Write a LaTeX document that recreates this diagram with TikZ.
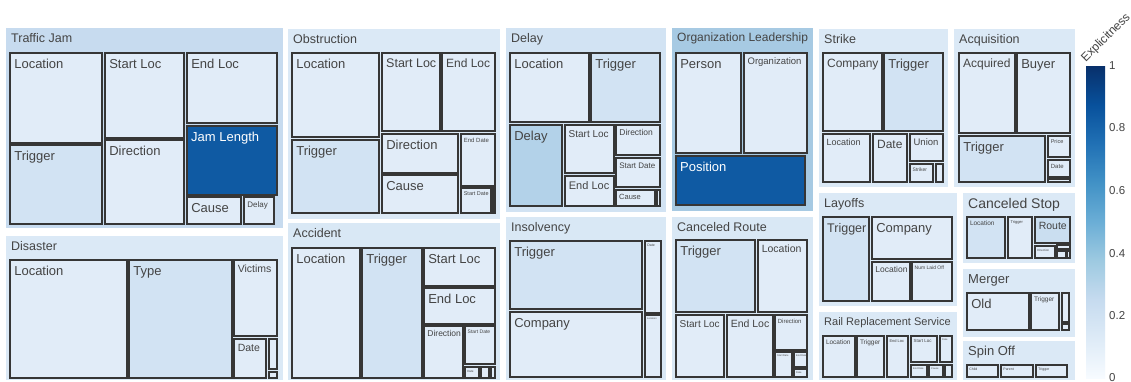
\documentclass[tikz,border=0pt]{standalone}
\usepackage{fontspec}
\setmainfont{Liberation Sans}
\usepackage{tikz}

\definecolor{txtgray}{HTML}{444444}
\definecolor{edge}{HTML}{363636}
\definecolor{lf}{HTML}{E1ECF8}
\definecolor{lt}{HTML}{D2E3F3}
\definecolor{md}{HTML}{B3D2E9}
\definecolor{rt}{HTML}{CADEF0}
\definecolor{dk}{HTML}{0F5AA3}
\definecolor{g1}{HTML}{C7DBEF}
\definecolor{g2}{HTML}{DBE9F6}
\definecolor{g3}{HTML}{D2E3F3}
\definecolor{g4}{HTML}{A7CAE3}
\definecolor{g5}{HTML}{D9E8F5}
% colorbrewer Blues
\definecolor{cb0}{RGB}{247,251,255}
\definecolor{cb1}{RGB}{222,235,247}
\definecolor{cb2}{RGB}{198,219,239}
\definecolor{cb3}{RGB}{158,202,225}
\definecolor{cb4}{RGB}{107,174,214}
\definecolor{cb5}{RGB}{66,146,198}
\definecolor{cb6}{RGB}{33,113,181}
\definecolor{cb7}{RGB}{8,81,156}
\definecolor{cb8}{RGB}{8,48,107}
\pgfdeclareverticalshading{blues}{100bp}{color(0bp)=(cb0); color(25bp)=(cb0);
  color(31.25bp)=(cb1); color(37.5bp)=(cb2); color(43.75bp)=(cb3);
  color(50bp)=(cb4); color(56.25bp)=(cb5); color(62.5bp)=(cb6);
  color(68.75bp)=(cb7); color(75bp)=(cb8); color(100bp)=(cb8)}

\tikzset{
  grp/.style={fill=#1, draw=white, line width=0.5pt},
  leaf/.style={fill=#1, draw=edge, line width=1.2pt},
  lbl/.style={anchor=north west, inner sep=0pt, text=txtgray,
    font=\fontsize{#1}{#1}\selectfont},
}

\begin{document}
\begin{tikzpicture}[x=1pt,y=-1pt]
\useasboundingbox (0,0) rectangle (1131,381);
\fill[white] (0,0) rectangle (1131,381);

% event types
\foreach \xa/\ya/\xb/\yb/\c/\s/\t [count=\i] in {
  5/27/283/228/g1/12.5/Traffic Jam,
  5/235/283/380/g2/12.5/Disaster,
  287/28/500/219/g2/12.5/Obstruction,
  287/222/500/380/g5/12.5/Accident,
  505/27/666/212/g3/12.5/Delay,
  671/27/813/211/g4/12/Organization Leadership,
  505/216/666/380/g5/12.5/Insolvency,
  671/216/813/380/g5/12.5/Canceled Route,
  818/28/948/187/g2/12.5/Strike,
  953/28/1075/187/g2/12.5/Acquisition,
  818/192/957/306/g2/12.5/Layoffs,
  818/311/957/380/g2/11/Rail Replacement Service,
  962/192/1075/263/g2/14/Canceled Stop,
  962/268/1075/337/g2/13/Merger,
  962/340/1075/380/g2/13/Spin Off}{
  \draw[grp=\c] (\xa,\ya) rectangle (\xb,\yb);
  \node[lbl=\s] (g\i) at (\xa+6,\ya+6) {\t};
}

% argument roles
\foreach \xa/\ya/\xb/\yb/\c/\s/\t [count=\i] in {
  10/53/102/143/lf/13/Location, 10/145/102/224/lt/13/Trigger,
  105/53/184/138/lf/13/Start Loc, 105/140/184/224/lf/13/Direction,
  187/53/277/123/lf/13/End Loc, 187/197/241/224/lf/13/Cause,
  244/197/274/224/lf/8/Delay,
  % disaster
  10/260/127/378/lf/13/Location, 129/260/232/378/lt/13/Type,
  234/260/277/336/lf/10.5/Victims, 234/339/266/378/lf/10.5/Date,
  269/339/277/369/lf/1/{}, 269/372/277/378/lf/1/{},
  % obstruction
  292/53/379/137/lf/13/Location, 292/140/379/213/lt/13/Trigger,
  382/53/440/131/lf/12.5/Start Loc, 442/53/495/131/lf/12/End Loc,
  382/134/458/173/lf/13/Direction, 382/175/458/213/lf/13/Cause,
  461/134/495/186/lf/6/End Date, 461/188/491/213/lf/5.5/Start Date,
  493/188/495/213/lf/1/{},
  % accident
  292/248/360/378/lf/13/Location, 362/248/422/378/lt/13/Trigger,
  424/248/495/286/lf/13/Start Loc, 424/288/495/324/lf/13/End Loc,
  424/326/463/378/lf/8.5/Direction, 465/326/495/364/lf/5/Start Date,
  465/367/479/378/lf/3/Date, 481/367/489/378/lf/1/{},
  491/367/495/378/lf/1/{},
  % delay
  510/53/589/122/lf/13/Location, 591/53/660/122/lt/13/Trigger,
  510/125/562/206/md/13/Delay, 565/125/614/173/lf/10/Start Loc,
  565/176/614/206/lf/11/End Loc, 616/125/660/155/lf/8.5/Direction,
  616/158/660/187/lf/8/Start Date, 616/190/655/206/lf/7.5/Cause,
  657/190/660/206/lf/1/{},
  % organization leadership
  676/53/741/153/lf/13/Person, 744/53/807/153/lf/9.5/Organization,
  % insolvency
  510/241/642/309/lt/13/Trigger, 510/312/642/377/lf/13/Company,
  645/241/661/313/lf/3.5/Date, 645/315/661/377/lf/2.5/Location,
  % canceled route
  676/240/755/312/lt/13/Trigger, 758/240/807/312/lf/10.5/Location,
  676/315/724/377/lf/10/Start Loc, 727/315/773/377/lf/10.5/End Loc,
  775/315/807/350/lf/6/Direction, 775/352/792/377/lf/2.5/Start Date,
  794/352/807/367/lf/2.5/End Date, 794/369/807/377/lf/2.5/Date,
  % strike
  823/53/882/131/lf/12/Company, 884/53/943/131/lt/13/Trigger,
  823/134/870/182/lf/9/Location, 873/134/907/182/lf/12/Date,
  910/134/943/161/lf/9.5/Union, 910/164/933/182/lf/5/Striker,
  936/164/943/182/lf/1/{},
  % acquisition
  959/53/1015/133/lf/12/Acquired, 1017/53/1070/133/lf/13/Buyer,
  959/136/1045/182/lt/13/Trigger, 1048/136/1070/157/lf/5.5/Price,
  1048/160/1070/177/lf/6/Date, 1048/179/1070/182/lf/1/{},
  % layoffs
  823/217/869/301/lt/12.5/Trigger, 872/217/952/259/lf/13/Company,
  872/262/910/301/lf/8.5/Location, 912/262/952/301/lf/5/Num Laid Off,
  % rail replacement service
  823/336/855/377/lf/6.5/Location, 857/336/884/377/lf/6.5/Trigger,
  887/336/908/377/lf/4/End Loc, 911/336/937/362/lf/4.5/Start Loc,
  940/336/952/362/lf/2.5/Date, 911/365/927/377/lf/2.5/End Date,
  929/365/943/377/lf/2.5/Cause, 945/365/952/377/lf/1/{},
  % canceled stop
  967/217/1005/258/lt/6.5/Location, 1008/217/1032/258/lf/4/Trigger,
  1035/217/1070/243/rt/10.5/Route, 1035/246/1055/258/lf/3/Direction,
  1057/245/1070/249/lf/1/{}, 1057/251/1066/258/lf/1/{},
  1067/251/1070/258/lf/1/{},
  % merger
  967/293/1029/330/lf/13/Old, 1031/293/1059/330/lf/6.5/Trigger,
  1062/293/1069/322/lf/1/{}, 1062/324/1069/330/lf/1/{},
  % spin off
  967/365/998/377/lf/3.5/Child, 1001/365/1033/377/lf/3.5/Parent,
  1036/365/1067/377/lf/3.5/Trigger}{
  \draw[leaf=\c] (\xa,\ya) rectangle (\xb,\yb);
  \node[lbl=\s] (n\i) at (\xa+1.5+0.2*\s,\ya+2+0.3*\s) {\t};
}

% the two explicit roles
\draw[leaf=dk] (187,126) rectangle (277,195);
\node[lbl=13, text=white] (jam) at (191,132) {Jam Length};
\draw[leaf=dk] (676,156) rectangle (805,205);
\node[lbl=13, text=white] (pos) at (680,162) {Position};

% colorbar
\shade[shading=blues] (1086,66) rectangle (1105,378);
\foreach \v/\y in {1/66, 0.8/128, 0.6/191, 0.4/254, 0.2/316, 0/378}
  \node[anchor=west, inner sep=0pt, text=txtgray,
    font=\fontsize{11.5}{11.5}\selectfont] (t\y) at (1109,\y) {\v};
\node[rotate=45, inner sep=0pt, text=txtgray,
  font=\fontsize{12}{12}\selectfont] (cbtitle) at (1106,38) {Explicitness};
\end{tikzpicture}
\end{document}
